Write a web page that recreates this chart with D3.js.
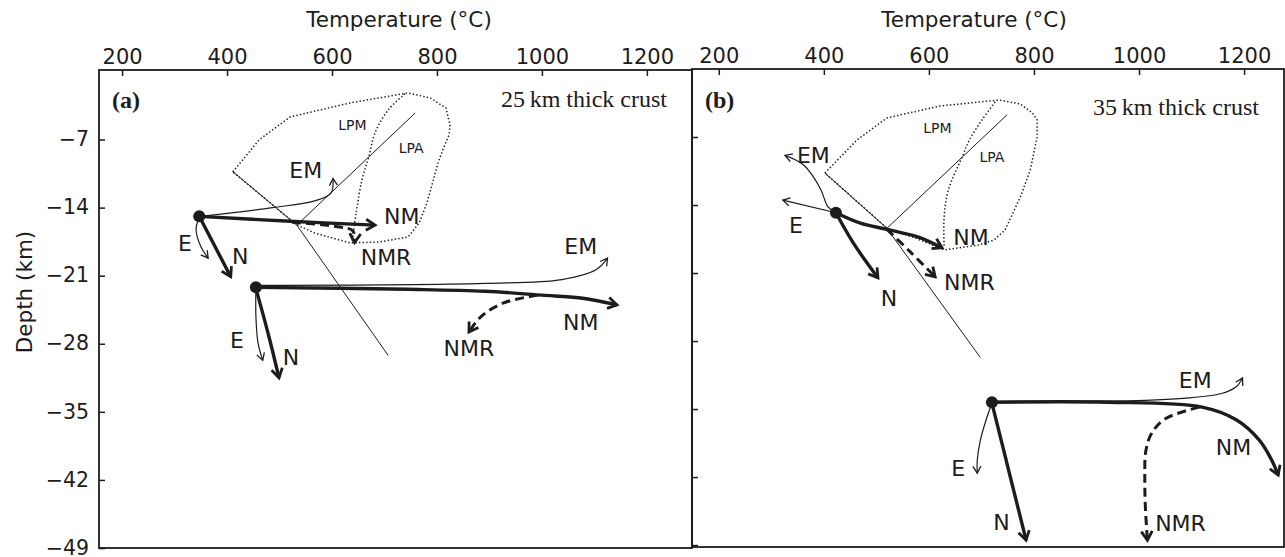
<!DOCTYPE html>
<html>
<head>
<meta charset="utf-8">
<script src="https://cdn.jsdelivr.net/npm/d3@7"></script>
<style>
  html, body { margin: 0; padding: 0; background: #fff; }
  svg { display: block; }
</style>
</head>
<body>
<svg id="chart" width="1285" height="557"></svg>
<script>
// Axis ticks shared by both panels
const tempTicks = [200, 400, 600, 800, 1000, 1200];
const depthTicks = [-7, -14, -21, -28, -35, -42, -49];

// ---- Panel (a): 25 km thick crust, points are [temperature °C, depth km] ----
const aStarts = [[347, -14.9], [455, -22.2]];
const aUpperNM = [[347, -14.9], [520, -15.4], [682, -15.8]];
const aUpperNMR = [[524, -15.5], [615, -16.0], [640, -16.4], [643, -17.6]];
const aUpperEM = [[348, -14.9], [487, -14.0], [567, -13.3], [598, -12.5], [602, -11.0]];
const aUpperE = [[346, -15.1], [341, -16.3], [350, -18.0], [364, -19.2]];
const aUpperN = [[350, -15.2], [407, -21.1]];
const aLowerNM = [[455, -22.2], [745, -22.4], [891, -22.6], [1000, -23.0], [1074, -23.3], [1143, -24.0]];
const aLowerEM = [[455, -22.0], [891, -21.8], [1038, -21.4], [1103, -20.4], [1125, -19.2]];
const aLowerNMR = [[992, -23.0], [927, -23.8], [884, -25.2], [861, -26.8]];
const aLowerE = [[455, -22.5], [455, -25.2], [459, -27.9], [468, -29.7]];
const aLowerN = [[455, -22.3], [480, -27.3], [499, -31.5]];
const aSolidus = [[411, -10.3], [533, -15.8], [707, -29.2]];
const aReaction = [[533, -15.8], [758, -4.3]];
const aMeltField = [[411, -10.33], [461, -7.04], [520, -4.68], [634, -3.24], [745, -2.21], [787, -2.72],
  [817, -3.75], [825, -5.5], [823, -6.53], [811, -8.07], [802, -9.41], [781, -13.52], [766, -15.58],
  [745, -17.02], [691, -17.53], [634, -17.63], [567, -16.61], [533, -15.78]];
const aFieldDivide = [[739, -2.31], [707, -3.96], [682, -6.32], [670, -8.79], [657, -11.16], [646, -14.55], [638, -17.53]];
const aPathLabels = [["EM", 550, -10.1], ["NM", 733, -14.9], ["NMR", 703, -19.1], ["E", 320, -17.6], ["N", 425, -19.0],
  ["EM", 1074, -18.0], ["NM", 1074, -25.8], ["NMR", 861, -28.4], ["E", 419, -27.6], ["N", 522, -29.4]];
const aFieldLabels = [["LPM", 639, -5.5], ["LPA", 751, -7.9]];

// ---- Panel (b): 35 km thick crust ----
const bStarts = [[423, -14.8], [720, -34.3]];
const bUpperNM = [[423, -14.8], [471, -15.9], [520, -16.5], [580, -17.3], [625, -18.4]];
const bUpperNMR = [[520, -16.5], [564, -18.8], [612, -21.4]];
const bUpperEM = [[423, -14.8], [408, -14.2], [395, -12.5], [380, -11.1], [362, -9.9], [340, -9.2], [326, -8.9]];
const bUpperE = [[423, -14.8], [322, -13.5]];
const bUpperN = [[423, -14.8], [456, -17.9], [503, -21.5]];
const bLowerNM = [[720, -34.3], [940, -34.3], [1120, -34.8], [1185, -36.1], [1229, -38.2], [1252, -40.2], [1265, -41.8]];
const bLowerEM = [[720, -34.2], [1012, -34.1], [1084, -33.9], [1157, -33.4], [1185, -32.7], [1197, -31.8]];
const bLowerNMR = [[1115, -34.8], [1050, -36.0], [1024, -37.5], [1013, -39.3], [1011, -42.0], [1012, -45.0], [1016, -48.5]];
const bLowerE = [[720, -34.4], [709, -36.1], [698, -38.2], [692, -40.3], [692, -41.6]];
const bLowerN = [[720, -34.4], [785, -48.5]];
const bSolidus = [[402, -10.7], [520, -16.4], [698, -29.7]];
const bReaction = [[520, -16.4], [749, -4.7]];
const bMeltField = [[402, -10.71], [463, -7.31], [520, -5.04], [621, -3.81], [734, -3.19], [774, -3.60],
  [797, -4.53], [806, -5.25], [806, -7.00], [793, -10.40], [774, -13.18], [745, -16.57], [724, -17.60],
  [694, -18.12], [629, -18.63], [574, -17.40], [520, -16.37]];
const bFieldDivide = [[726, -3.40], [701, -5.25], [677, -7.31], [665, -8.85], [637, -12.46], [629, -15.24], [629, -18.43]];
const bPathLabels = [["EM", 380, -8.9], ["E", 347, -16.1], ["N", 524, -23.6], ["NM", 680, -17.3], ["NMR", 677, -21.9],
  ["EM", 1107, -32.0], ["NM", 1180, -38.9], ["NMR", 1079, -46.7], ["E", 656, -41.1], ["N", 738, -46.6]];
const bFieldLabels = [["LPM", 616, -6.1], ["LPA", 720, -9.1]];

const INK = "#1c1c1c";
const SANS = "'DejaVu Sans', Verdana, sans-serif";
const SERIF = "'Liberation Serif', 'Times New Roman', serif";

const svg = d3.select("#chart");

// Open chevron arrowheads, fixed size regardless of stroke width
const defs = svg.append("defs");
function addArrow(id, len, half, width) {
  defs.append("marker")
    .attr("id", id)
    .attr("markerUnits", "userSpaceOnUse")
    .attr("viewBox", `${-len - 3} ${-half - 3} ${len + 6} ${2 * half + 6}`)
    .attr("markerWidth", len + 6).attr("markerHeight", 2 * half + 6)
    .attr("refX", 0).attr("refY", 0)
    .attr("orient", "auto")
    .append("path")
    .attr("d", `M${-len},${-half}L0,0L${-len},${half}`)
    .attr("fill", "none").attr("stroke", INK)
    .attr("stroke-width", width).attr("stroke-linejoin", "miter");
}
addArrow("arrowThick", 9, 5.5, 2.8);
addArrow("arrowThin", 7, 4, 1.3);

function drawPanel(p) {
  const g = svg.append("g");
  const x = p.x, y = p.y;
  const line = d3.line().x(d => x(d[0])).y(d => y(d[1]));
  const smooth = d3.line().x(d => x(d[0])).y(d => y(d[1])).curve(d3.curveCatmullRom.alpha(0.5));

  // Melting field outline and the LPM / LPA boundary
  g.append("path").datum(p.field).attr("d", d => line(d) + "Z")
    .attr("fill", "none").attr("stroke", INK).attr("stroke-width", 1.5)
    .attr("stroke-dasharray", "1.4,2.2");
  g.append("path").datum(p.divide).attr("d", smooth)
    .attr("fill", "none").attr("stroke", INK).attr("stroke-width", 1.5)
    .attr("stroke-dasharray", "1.4,2.2");

  // Thin reference curves
  [p.solidus, p.reaction].forEach(s => {
    g.append("path").datum(s).attr("d", line)
      .attr("fill", "none").attr("stroke", INK).attr("stroke-width", 1);
  });

  // P–T paths
  const styles = {
    thin: { w: 1.2, dash: null, marker: "arrowThin" },
    thick: { w: 3.4, dash: null, marker: "arrowThick" },
    dashed: { w: 3, dash: "9,5", marker: "arrowThick" }
  };
  p.paths.forEach(([pts, kind]) => {
    const s = styles[kind];
    g.append("path").datum(pts).attr("d", smooth)
      .attr("fill", "none").attr("stroke", INK)
      .attr("stroke-width", s.w)
      .attr("stroke-dasharray", s.dash)
      .attr("stroke-linecap", "butt")
      .attr("marker-end", `url(#${s.marker})`);
  });

  // Starting points
  g.selectAll("circle.start").data(p.starts).join("circle")
    .attr("cx", d => x(d[0])).attr("cy", d => y(d[1])).attr("r", 6).attr("fill", INK);

  // Path labels
  g.selectAll("text.path-label").data(p.labels).join("text")
    .attr("x", d => x(d[1])).attr("y", d => y(d[2])).attr("dy", "0.36em")
    .attr("text-anchor", "middle")
    .attr("font-family", SANS).attr("font-size", 22).attr("fill", INK)
    .text(d => d[0]);

  g.selectAll("text.field-label").data(p.fieldLabels).join("text")
    .attr("x", d => x(d[1])).attr("y", d => y(d[2])).attr("dy", "0.36em")
    .attr("text-anchor", "middle")
    .attr("font-family", SANS).attr("font-size", 14).attr("fill", INK)
    .text(d => d[0]);

  // Frame
  const [x0, x1] = x.range(), [y1, y0] = y.range();
  g.append("rect").attr("x", x0).attr("y", y0).attr("width", x1 - x0).attr("height", y1 - y0)
    .attr("fill", "none").attr("stroke", INK).attr("stroke-width", 1.8);

  // Top temperature axis with inward ticks
  const top = g.append("g").attr("transform", `translate(0,${y0})`)
    .call(d3.axisTop(x).tickValues(tempTicks).tickSize(-6).tickPadding(6).tickFormat(d3.format("d")));
  top.select(".domain").remove();
  top.selectAll("line").attr("stroke", INK).attr("stroke-width", 1.5);
  top.selectAll("text").attr("font-family", SANS).attr("font-size", 21).attr("fill", INK);

  // Left depth axis with inward ticks
  const left = g.append("g").attr("transform", `translate(${x0},0)`)
    .call(d3.axisLeft(y).tickValues(depthTicks).tickSize(-6).tickPadding(10)
      .tickFormat(p.depthLabels ? d3.format("d") : () => ""));
  left.select(".domain").remove();
  left.selectAll("line").attr("stroke", INK).attr("stroke-width", 1.5);
  left.selectAll("text").attr("font-family", SANS).attr("font-size", 20.5).attr("dy", "0.3em").attr("fill", INK);

  // Axis title
  g.append("text").attr("x", p.titleX).attr("y", 27).attr("text-anchor", "middle")
    .attr("font-family", SANS).attr("font-size", 21.5).attr("fill", INK)
    .text("Temperature (°C)");

  // Panel tag and crust thickness
  g.append("text").attr("x", x0 + 13).attr("y", p.tagY)
    .attr("font-family", SERIF).attr("font-weight", "bold").attr("font-size", 24).attr("fill", INK)
    .text(p.tag);
  g.append("text").attr("x", p.noteX).attr("y", p.noteY).attr("text-anchor", "end")
    .attr("font-family", SERIF).attr("font-size", 24).attr("fill", INK)
    .text(p.note);
}

const xA = d3.scaleLinear().domain([156, 1286]).range([99, 692]);
const yA = d3.scaleLinear().domain([-49, 0.15]).range([548, 70]);
const xB = d3.scaleLinear().domain([149, 1276]).range([692, 1284]);
const yB = d3.scaleLinear().domain([-49.2, 0]).range([547, 69]);

drawPanel({
  x: xA, y: yA, depthLabels: true, titleX: 399, tag: "(a)", tagY: 108,
  note: "25\u2009km thick crust", noteX: 667, noteY: 107,
  field: aMeltField, divide: aFieldDivide, solidus: aSolidus, reaction: aReaction,
  starts: aStarts, labels: aPathLabels, fieldLabels: aFieldLabels,
  paths: [[aUpperEM, "thin"], [aUpperE, "thin"], [aUpperNMR, "dashed"], [aUpperNM, "thick"], [aUpperN, "thick"],
          [aLowerEM, "thin"], [aLowerE, "thin"], [aLowerNMR, "dashed"], [aLowerNM, "thick"], [aLowerN, "thick"]]
});

drawPanel({
  x: xB, y: yB, depthLabels: false, titleX: 974, tag: "(b)", tagY: 108,
  note: "35\u2009km thick crust", noteX: 1259, noteY: 115,
  field: bMeltField, divide: bFieldDivide, solidus: bSolidus, reaction: bReaction,
  starts: bStarts, labels: bPathLabels, fieldLabels: bFieldLabels,
  paths: [[bUpperEM, "thin"], [bUpperE, "thin"], [bUpperNMR, "dashed"], [bUpperNM, "thick"], [bUpperN, "thick"],
          [bLowerEM, "thin"], [bLowerE, "thin"], [bLowerNMR, "dashed"], [bLowerNM, "thick"], [bLowerN, "thick"]]
});

// Shared depth title
svg.append("text")
  .attr("transform", "translate(24,292) rotate(-90)")
  .attr("text-anchor", "middle").attr("dy", "0.35em")
  .attr("font-family", SANS).attr("font-size", 21.5).attr("fill", INK)
  .text("Depth (km)");
</script>
</body>
</html>
